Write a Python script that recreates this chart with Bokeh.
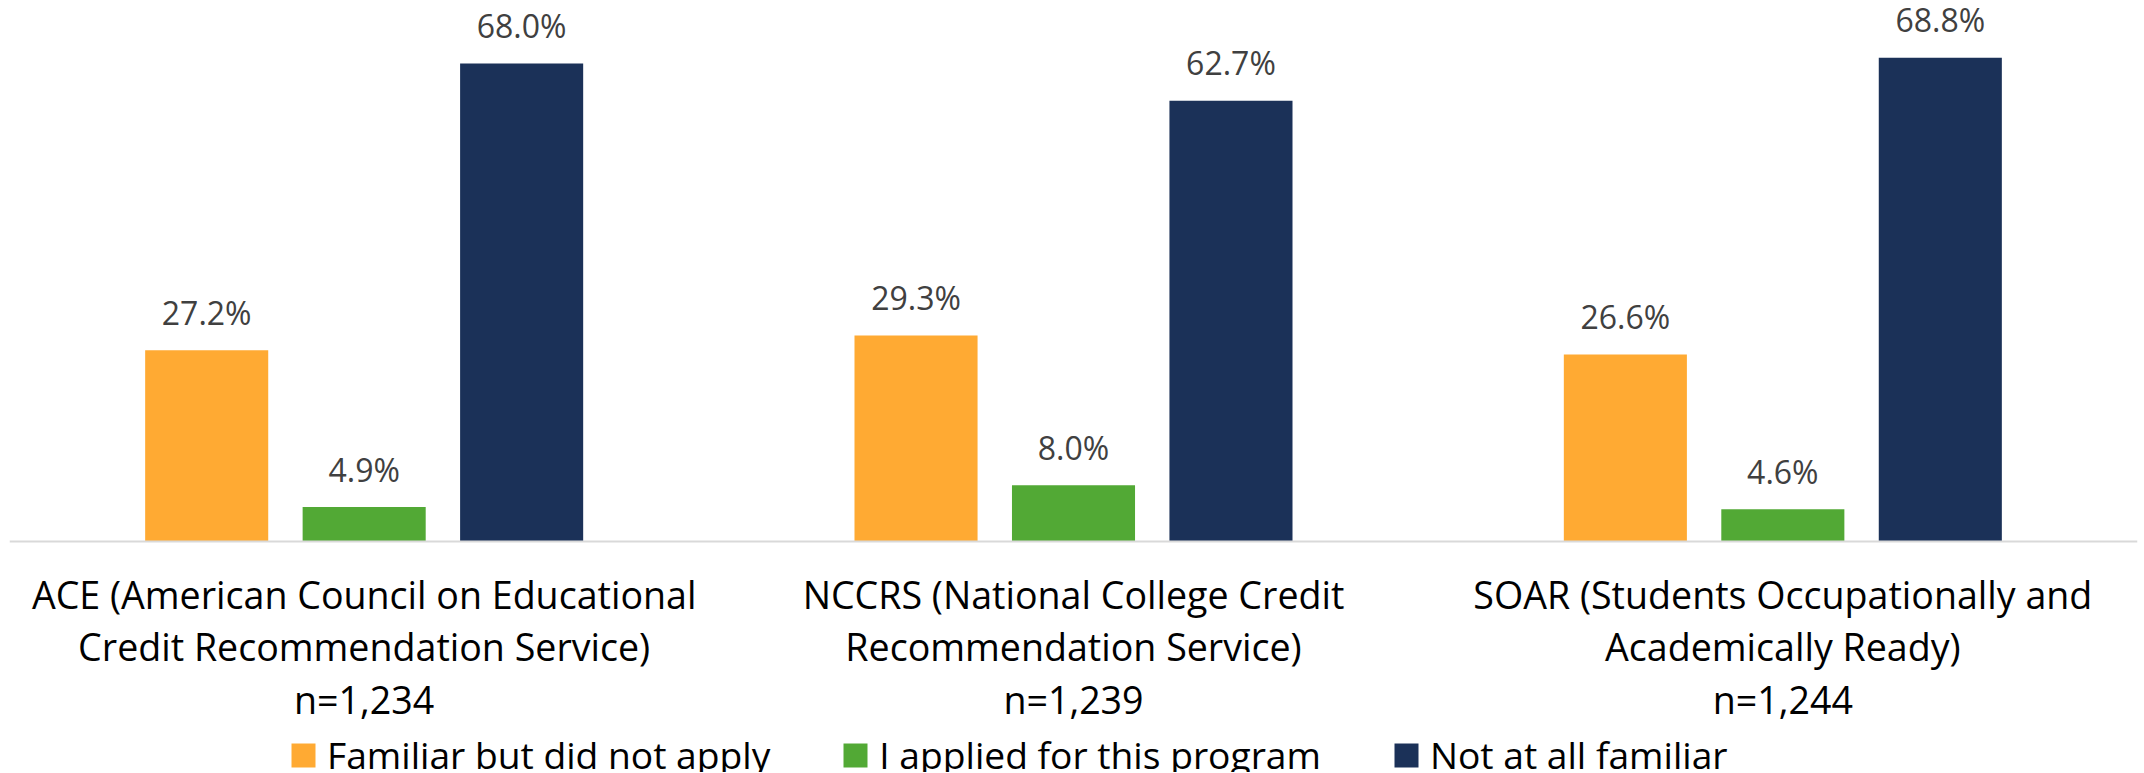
from bokeh.plotting import figure
from bokeh.models import ColumnDataSource, FactorRange, Legend, LegendItem, Span
from bokeh.transform import dodge
from bokeh.embed import file_html
from bokeh.resources import INLINE
from bokeh.core.properties import value

programs = [
    "ACE (American Council on Educational\nCredit Recommendation Service)\nn=1,234",
    "NCCRS (National College Credit\nRecommendation Service)\nn=1,239",
    "SOAR (Students Occupationally and\nAcademically Ready)\nn=1,244",
]
series_names = ["Familiar but did not apply", "I applied for this program", "Not at all familiar"]
familiar = [27.2, 29.3, 26.6]
applied = [4.9, 8.0, 4.6]
not_familiar = [68.0, 62.7, 68.8]
colors = ["#FFAA33", "#52A935", "#1B3158"]

FONT = "Open Sans"

src = ColumnDataSource(dict(
    prog=programs,
    zero=[0] * len(programs),
    familiar=familiar,
    applied=applied,
    not_familiar=not_familiar,
    familiar_lbl=[f"{v:.1f}%" for v in familiar],
    applied_lbl=[f"{v:.1f}%" for v in applied],
    not_familiar_lbl=[f"{v:.1f}%" for v in not_familiar],
))

p = figure(
    x_range=FactorRange(*programs), y_range=(-32.86, 76.96),
    width=2140, height=772, output_backend="svg", toolbar_location=None,
    x_axis_location=None, y_axis_location=None,
    min_border_left=9, min_border_right=3, min_border_top=0, min_border_bottom=0,
)
p.outline_line_color = None
p.xgrid.grid_line_color = None
p.ygrid.grid_line_color = None

# category baseline (axis line)
p.add_layout(Span(location=0, dimension="width", line_color="#D9D9D9", line_width=2))

cols = ["familiar", "applied", "not_familiar"]
offsets = [-0.222, 0.0, 0.222]
bw = 0.1735
renderers = []
for col, off, c in zip(cols, offsets, colors):
    r = p.vbar(x=dodge("prog", off, range=p.x_range), top=col, width=bw, bottom=0,
               source=src, fill_color=c, line_color=None)
    renderers.append(r)
    p.text(x=dodge("prog", off, range=p.x_range), y=col, text=col + "_lbl", source=src,
           text_font=value(FONT), text_font_size="32px", text_color="#404040",
           text_align="center", text_baseline="alphabetic", y_offset=-38)

# category labels under the baseline
p.text(x="prog", y="zero", text="prog", source=src,
       text_font=value(FONT), text_font_size="37.6px", text_color="#000000",
       text_align="center", text_baseline="top", text_line_height=1.03, y_offset=27)

legend = Legend(
    items=[LegendItem(label=n, renderers=[r]) for n, r in zip(series_names, renderers)],
    orientation="horizontal", location=(279, -8),
    glyph_width=30, glyph_height=30, label_standoff=9, spacing=70,
    label_text_font=FONT, label_text_font_size="37.2px", label_text_color="#000000",
    padding=0, margin=0, border_line_color=None, background_fill_alpha=0,
)
p.add_layout(legend, "center")

open("out.html", "w").write(file_html(p, INLINE))
